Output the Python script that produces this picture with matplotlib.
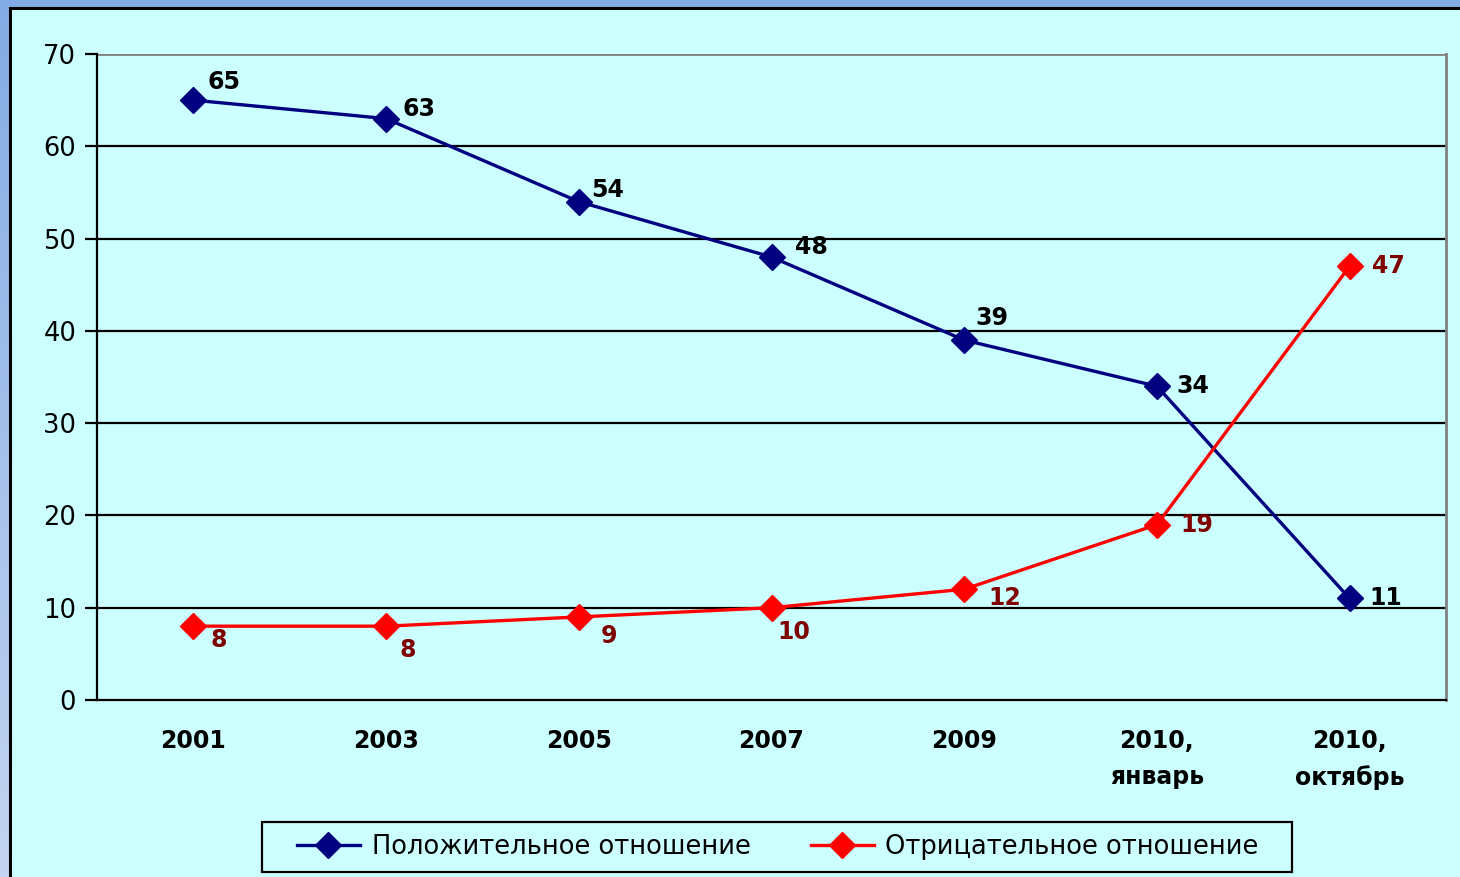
import matplotlib
matplotlib.use("Agg")
import matplotlib.pyplot as plt
import numpy as np
from matplotlib.patches import Rectangle

plt.rcParams["font.family"] = ["DejaVu Sans"]

# ── Data ─────────────────────────────────────────────────────────────────────
categories = ["2001", "2003", "2005", "2007", "2009", "2010,\nянварь", "2010,\nоктябрь"]
positive = [65, 63, 54, 48, 39, 34, 11]
negative = [8, 8, 9, 10, 12, 19, 47]
series_names = ["Положительное отношение", "Отрицательное отношение"]
y_ticks = [0, 10, 20, 30, 40, 50, 60, 70]

# label offsets in pixels (dx, dy)
pos_offsets = [(31, 18), (33, 10), (29, 12), (40, 10), (28, 22), (36, 0), (36, 0)]
neg_offsets = [(25, -14), (22, -24), (30, -19), (22, -24), (41, -9), (40, 0), (39, 0)]

W, H = 1460, 877
fig = plt.figure(figsize=(W / 100, H / 100), dpi=100)

# ── Background: blue gradient + cyan panel ───────────────────────────────────
bg = fig.add_axes([0, 0, 1, 1], zorder=-10)
grad = np.linspace(0, 1, 256).reshape(-1, 1)
bg.imshow(grad, cmap=matplotlib.colors.LinearSegmentedColormap.from_list(
    "g", ["#84ACE4", "#C4D4F0"]), aspect="auto", extent=[0, 1, 0, 1], origin="upper")
bg.add_patch(Rectangle((10 / W, -0.1), 1.2, (H - 8) / H + 0.1,
                       transform=bg.transAxes, facecolor="#CCFFFF",
                       edgecolor="black", linewidth=2.2))
# legend frame
bg.add_patch(Rectangle((262 / W, 1 - 872 / H), (1292 - 262) / W, 50 / H,
                       transform=bg.transAxes, facecolor="none",
                       edgecolor="black", linewidth=1.6))
bg.set_xlim(0, 1); bg.set_ylim(0, 1)
bg.axis("off")

# ── Plot area ────────────────────────────────────────────────────────────────
left, right, top, bottom = 97, 1446, 54, 700
ax = fig.add_axes([left / W, 1 - bottom / H, (right - left) / W, (bottom - top) / H])
ax.set_facecolor("none")

x = np.arange(len(categories))
ax.plot(x, positive, color="#000080", lw=2.4, marker="D", ms=13,
        label=series_names[0], zorder=4)
ax.plot(x, negative, color="#FF0000", lw=2.4, marker="D", ms=13,
        label=series_names[1], zorder=4)

for xi, v, (dx, dy) in zip(x, positive, pos_offsets):
    ax.annotate(str(v), (xi, v), xytext=(dx, dy), textcoords="offset pixels",
                fontsize=17, fontweight="bold", color="black",
                ha="center", va="center", zorder=5)
for xi, v, (dx, dy) in zip(x, negative, neg_offsets):
    ax.annotate(str(v), (xi, v), xytext=(dx, dy), textcoords="offset pixels",
                fontsize=17, fontweight="bold", color="#800000",
                ha="center", va="center", zorder=5)

ax.set_xlim(-0.5, len(categories) - 0.5)
ax.set_ylim(0, 70)
ax.set_yticks(y_ticks)
ax.set_yticklabels([str(t) for t in y_ticks], fontsize=18.5)
for t in y_ticks[1:-1]:
    ax.axhline(t, color="black", lw=1.6, zorder=1)
ax.axhline(70, color="#808080", lw=2, zorder=1)

ax.set_xticks(x)
ax.set_xticklabels(categories, fontsize=17, fontweight="bold", linespacing=1.6)
ax.tick_params(axis="x", length=0, pad=21)
ax.tick_params(axis="y", length=9, width=1.6, pad=6)

ax.spines["left"].set_linewidth(1.6)
ax.spines["bottom"].set_linewidth(1.6)
ax.spines["right"].set_color("#808080")
ax.spines["right"].set_linewidth(2)
ax.spines["top"].set_visible(False)

leg = fig.legend(loc="center left", bbox_to_anchor=(297 / W, 1 - 847 / H), ncol=2,
                 fontsize=18.5, frameon=False, handlelength=2.45, columnspacing=2.35,
                 borderpad=0, handletextpad=0.45, borderaxespad=0)

fig.savefig("out.png", dpi=100)
